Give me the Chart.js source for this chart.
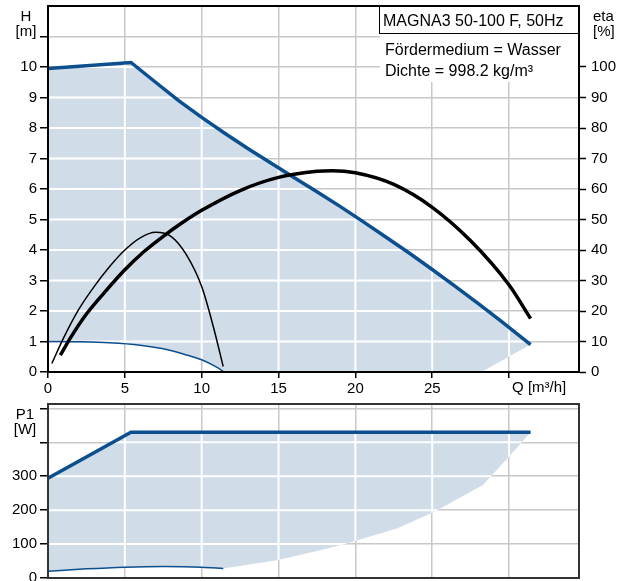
<!DOCTYPE html>
<html>
<head>
<meta charset="utf-8">
<script src="https://cdn.jsdelivr.net/npm/chart.js@4.4.1/dist/chart.umd.min.js"></script>
<style>
    body { margin: 0; background: #fff; overflow: hidden; width: 627px; height: 581px; position: relative; }
    canvas { position: absolute; left: 0; }
    #curveChart { top: 0; }
    #powerChart { top: 395px; }
</style>
</head>
<body>
<canvas id="curveChart" width="627" height="395"></canvas>
<canvas id="powerChart" width="627" height="200"></canvas>
<script>
/* ---------------- Data ---------------- */

// H [m] over Q [m³/h], max curve and min curve
const qMax = [0, 5.4, 7, 8.5, 10, 11.5, 13, 14.5, 16, 17.5, 19, 20.5, 22, 23.5, 25, 26.5, 28, 29.5, 31.4];
const hMax = [9.95, 10.15, 9.5, 8.9, 8.35, 7.83, 7.33, 6.85, 6.38, 5.91, 5.43, 4.93, 4.42, 3.9, 3.36, 2.81, 2.24, 1.66, 0.9];
const qMin = [0, 2, 4, 6, 7.5, 9, 10, 11, 11.4];
const hMin = [1.0, 0.99, 0.96, 0.88, 0.76, 0.56, 0.4, 0.15, 0.02];
// lower right corner of the operating range
const qZero = [28.2];
const hZero = [0];

// eta [%]
const qEtaMax = [0.8, 1.5, 2.5, 3.75, 5, 6.25, 7.5, 8.75, 10, 12.5, 15, 17.5, 18.5, 20, 22.5, 25, 27.5, 30, 31.4];
const etaMax = [5.5, 11.5, 19, 26.5, 33.5, 39.5, 44.5, 49, 53, 59.5, 63.8, 65.8, 66, 65.3, 61.5, 54, 43, 28.5, 17.5];
const qEtaMin = [0.25, 1, 2, 3, 4, 5, 6, 7, 8, 9, 10, 10.75, 11.4];
const etaMin = [2.8, 11, 20.5, 28, 34.5, 40, 44, 45.8, 44.5, 38.5, 28, 15, 1.8];

// P1 [W]
const qP1Max = [0, 5.4, 31.4];
const p1Max = [294, 430, 430];
const qP1Min = [0, 2.5, 5, 7.5, 10, 11.4];
const p1Min = [20, 27, 32, 34, 32, 28];
const qP1Edge = [14.9, 17.7, 19.2, 22.7, 25.2, 28.3, 30];
const p1Edge = [52, 82, 99, 146, 197, 274, 358];

// tick labels
const qLabels = [0, 5, 10, 15, 20, 25];
const hLabels = [0, 1, 2, 3, 4, 5, 6, 7, 8, 9, 10];
const etaLabels = [0, 10, 20, 30, 40, 50, 60, 70, 80, 90, 100];
const pLabels = [0, 100, 200, 300];

const BLUE = "#0b4f8e";
const FILL = "#d0dce8";
const GRID = "#c8c8c8";
const NONE = "rgba(0,0,0,0)";

Chart.defaults.font.family = '"Liberation Sans", Arial, sans-serif';
Chart.defaults.font.size = 15;
Chart.defaults.color = "#000";

const pts = (xs, ys) => xs.map((x, i) => ({ x, y: ys[i] }));

const topArea = pts(qMax, hMax)
    .concat(pts(qZero, hZero))
    .concat(pts(qMin, hMin).reverse());

const bottomArea = pts(qP1Max, p1Max)
    .concat(pts(qP1Edge, p1Edge).reverse())
    .concat(pts(qP1Min, p1Min).reverse());

// fixed axis sizes so both plots line up
const fixWidth = w => s => { s.width = w; s.paddingTop = 0; s.paddingBottom = 0; };
const fixHeight = h => s => { s.height = h; s.paddingLeft = 0; s.paddingRight = 0; };

/* ---------------- Plugins ---------------- */

// operating range fill, with white grid lines inside it
const areaFill = {
    id: "areaFill",
    beforeDatasetDraw(chart, args) {
        const ds = chart.data.datasets[args.index];
        if (!ds.area) return;
        const ctx = chart.ctx;
        const a = chart.chartArea;
        const p = args.meta.data;

        ctx.save();
        ctx.beginPath();
        ctx.rect(a.left, a.top, a.width, a.height);
        ctx.clip();
        ctx.beginPath();
        p.forEach((pt, i) => i ? ctx.lineTo(pt.x, pt.y) : ctx.moveTo(pt.x, pt.y));
        ctx.closePath();
        ctx.fillStyle = FILL;
        ctx.fill();
        ctx.clip();

        const xs = chart.scales.x;
        const ys = chart.scales.y;
        ctx.strokeStyle = "#fff";
        ctx.lineWidth = 2;
        ctx.beginPath();
        xs.ticks.forEach(t => {
            const x = xs.getPixelForValue(t.value);
            ctx.moveTo(x, a.top);
            ctx.lineTo(x, a.bottom);
        });
        ys.ticks.forEach(t => {
            const y = ys.getPixelForValue(t.value);
            ctx.moveTo(a.left, y);
            ctx.lineTo(a.right, y);
        });
        ctx.stroke();
        ctx.restore();
    }
};

// frame, axis titles and info box
const frame = {
    id: "frame",
    afterDraw(chart, args, opts) {
        const ctx = chart.ctx;
        const a = chart.chartArea;
        ctx.save();

        if (opts.info) {
            ctx.fillStyle = "#fff";
            ctx.fillRect(a.right - 199, a.top + 27, 198, 49);
            ctx.fillRect(a.right - 200, a.top, 200, 27);
            ctx.strokeStyle = "#000";
            ctx.lineWidth = 1;
            ctx.strokeRect(a.right - 199.5, a.top + 0.5, 200, 27);
            ctx.fillStyle = "#000";
            ctx.font = '16px "Liberation Sans", Arial, sans-serif';
            ctx.textAlign = "left";
            ctx.fillText(opts.info[0], a.right - 196, a.top + 20);
            ctx.fillText(opts.info[1], a.right - 194, a.top + 49);
            ctx.fillText(opts.info[2], a.right - 194, a.top + 70);
        }

        ctx.strokeStyle = opts.color;
        ctx.lineWidth = 2;
        ctx.strokeRect(a.left, a.top, a.width, a.height);

        ctx.fillStyle = "#000";
        ctx.font = '15px "Liberation Sans", Arial, sans-serif';
        ctx.textAlign = "center";
        opts.left.forEach((s, i) => ctx.fillText(s, a.left - opts.leftOff, a.top + 15 + i * 15));
        if (opts.right) {
            ctx.textAlign = "left";
            opts.right.forEach((s, i) => ctx.fillText(s, a.right + 14, a.top + 15 + i * 15));
        }
        if (opts.xTitle) {
            const xs = chart.scales.x;
            ctx.textAlign = "left";
            ctx.fillText(opts.xTitle, xs.getPixelForValue(30) + 3, a.bottom + 20);
        }
        ctx.restore();
    }
};

/* ---------------- Charts ---------------- */

const lineDefaults = {
    pointRadius: 0,
    fill: false,
    cubicInterpolationMode: "monotone"
};

new Chart(document.getElementById("curveChart"), {
    type: "line",
    data: {
        datasets: [
            { data: pts(qEtaMax, etaMax), yAxisID: "y2", borderColor: "#000", borderWidth: 3.5, order: 0 },
            { data: pts(qEtaMin, etaMin), yAxisID: "y2", borderColor: "#000", borderWidth: 1.5, order: 1 },
            { data: pts(qMax, hMax), borderColor: BLUE, borderWidth: 3.5, cubicInterpolationMode: "default", tension: 0, order: 2 },
            { data: pts(qMin, hMin), borderColor: BLUE, borderWidth: 1.5, order: 3 },
            { data: topArea, area: true, showLine: false, order: 9 }
        ]
    },
    options: {
        responsive: false,
        animation: false,
        events: [],
        layout: { padding: { top: 6 } },
        datasets: { line: lineDefaults },
        plugins: {
            legend: { display: false },
            tooltip: { enabled: false },
            frame: {
                color: "#000",
                left: ["H", "[m]"],
                leftOff: 22,
                right: ["eta", "[%]"],
                xTitle: "Q [m³/h]",
                info: ["MAGNA3 50-100 F, 50Hz", "Fördermedium = Wasser", "Dichte = 998.2 kg/m³"]
            }
        },
        scales: {
            x: {
                type: "linear", min: 0, max: 34.55,
                afterFit: fixHeight(23),
                ticks: {
                    stepSize: 5, includeBounds: false, padding: 2, maxRotation: 0, autoSkip: false,
                    callback: v => qLabels.includes(v) ? v : ""
                },
                grid: { color: GRID, lineWidth: 1.5, tickLength: 6, tickColor: "#000", tickWidth: 1.5 },
                border: { color: "#000", width: 2 }
            },
            y: {
                min: 0, max: 12,
                afterFit: fixWidth(48),
                ticks: {
                    stepSize: 1, includeBounds: false, padding: 3,
                    callback: v => hLabels.includes(v) ? v : ""
                },
                grid: {
                    color: GRID, lineWidth: 1.5, tickLength: 8, tickWidth: 1.5,
                    tickColor: c => (c.tick && c.tick.value === 12) ? NONE : "#000"
                },
                border: { color: "#000", width: 2 }
            },
            y2: {
                position: "right", min: 0, max: 120,
                afterFit: fixWidth(48),
                ticks: {
                    stepSize: 10, includeBounds: false, padding: 5,
                    callback: v => etaLabels.includes(v) ? v : ""
                },
                grid: {
                    drawOnChartArea: false, tickLength: 7, tickWidth: 1.5,
                    tickColor: c => (c.tick && c.tick.value > 100) ? NONE : "#000"
                },
                border: { color: "#000", width: 2 }
            }
        }
    },
    plugins: [areaFill, frame]
});

new Chart(document.getElementById("powerChart"), {
    type: "line",
    data: {
        datasets: [
            { data: pts(qP1Max, p1Max), borderColor: BLUE, borderWidth: 3.5, cubicInterpolationMode: "default", tension: 0, order: 0 },
            { data: pts(qP1Min, p1Min), borderColor: BLUE, borderWidth: 1.5, order: 1 },
            { data: bottomArea, area: true, showLine: false, order: 9 }
        ]
    },
    options: {
        responsive: false,
        animation: false,
        events: [],
        layout: { padding: { top: 9, right: 48 } },
        datasets: { line: lineDefaults },
        plugins: {
            legend: { display: false },
            tooltip: { enabled: false },
            frame: { color: "#333", left: ["P1", "[W]"], leftOff: 23 }
        },
        scales: {
            x: {
                type: "linear", min: 0, max: 34.55,
                afterFit: fixHeight(17),
                ticks: { display: false, stepSize: 5, includeBounds: false },
                grid: { color: GRID, lineWidth: 1.5, drawTicks: false },
                border: { color: "#333", width: 2 }
            },
            y: {
                min: 0, max: 513,
                afterFit: fixWidth(48),
                ticks: {
                    stepSize: 100, includeBounds: false, padding: 3,
                    callback: v => pLabels.includes(v) ? v : ""
                },
                grid: { color: GRID, lineWidth: 1.5, tickLength: 8, tickWidth: 1.5, tickColor: "#000" },
                border: { color: "#333", width: 2 }
            }
        }
    },
    plugins: [areaFill, frame]
});
</script>
</body>
</html>
